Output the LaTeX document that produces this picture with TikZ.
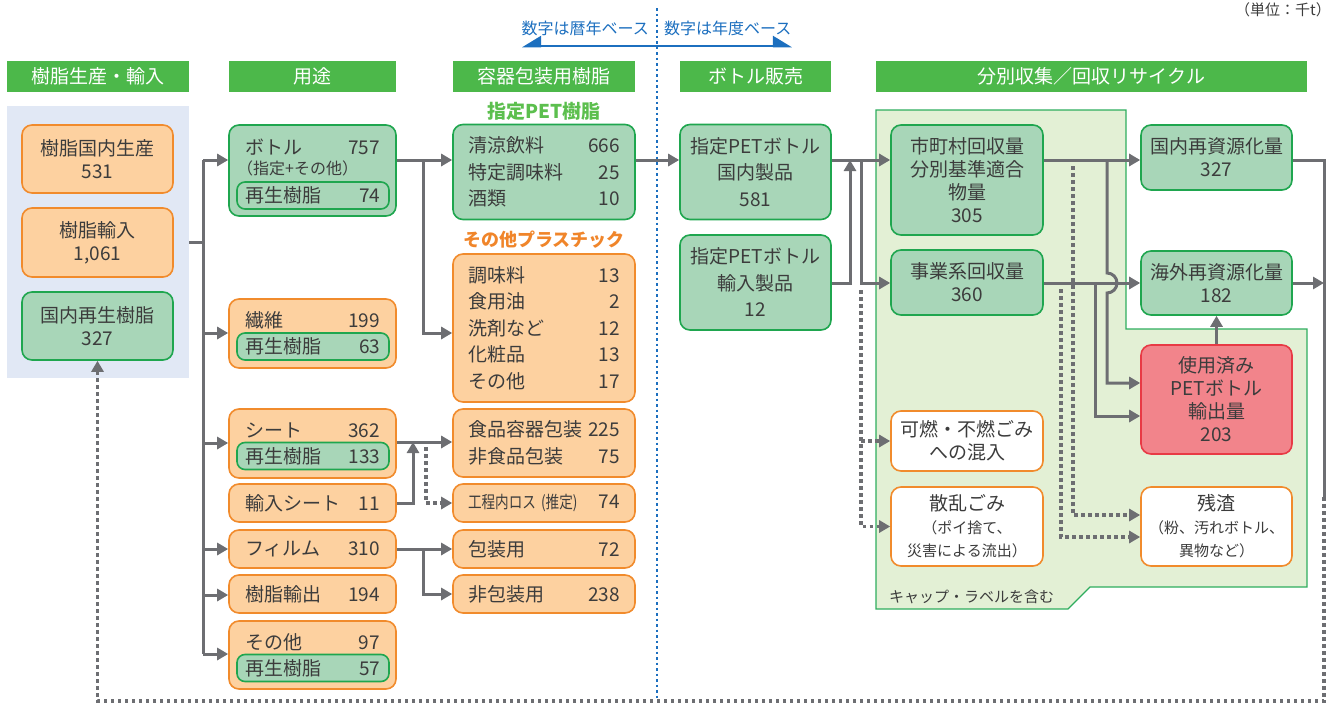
\documentclass[tikz,border=0pt]{standalone}
\usepackage{fontspec}
\usepackage{graphicx}
\setmainfont{Noto Sans CJK JP}
\usetikzlibrary{arrows.meta,positioning,calc}
\definecolor{hdrgreen}{HTML}{4CB84A}
\definecolor{boxgreen}{HTML}{1FA64F}
\definecolor{fillgreen}{HTML}{A8D6B8}
\definecolor{boxorange}{HTML}{F18B2C}
\definecolor{fillorange}{HTML}{FDD1A0}
\definecolor{boxred}{HTML}{E83A45}
\definecolor{fillred}{HTML}{F2848B}
\definecolor{panelblue}{HTML}{E1E8F5}
\definecolor{areabg}{HTML}{E3F0D5}
\definecolor{areagreen}{HTML}{2EAD5E}
\definecolor{flowgray}{HTML}{6D6E72}
\definecolor{basisblue}{HTML}{1C6FBF}
\definecolor{petgreen}{HTML}{5CBF4E}
\definecolor{othorange}{HTML}{F0852A}
\definecolor{ink}{HTML}{3C3C3C}
\newcommand\fsz[2]{\fontsize{#1}{#2}\selectfont}
\newcommand\gap{\hspace{0pt plus 1filll}}
\newcommand\subline[1]{{\fsz{15}{20}#1}}
\tikzset{
  hdr/.style={fill=hdrgreen, text=white, minimum height=31pt, inner sep=0pt, font=\fsz{19}{23}},
  greenbox/.style={draw=boxgreen, fill=fillgreen, line width=1.6pt, rounded corners=10pt,
    inner sep=0pt, align=center, text=ink, font=\fsz{19}{23}},
  orangebox/.style={greenbox, draw=boxorange, fill=fillorange},
  whitebox/.style={greenbox, draw=boxorange, fill=white},
  redbox/.style={greenbox, draw=boxred, fill=fillred},
  rowbox/.style={text width=135pt, align=left},
  tallrows/.style={text width=152pt, align=left, font=\fsz{19}{26.5}},
  subbox/.style={greenbox, rounded corners=8pt, minimum width=152pt, minimum height=27pt,
    text width=135pt, align=left},
  rowtxt/.style={text=ink, inner sep=0pt, text width=135pt, align=left, font=\fsz{19}{23}},
  note/.style={text=ink, inner sep=0pt, font=\fsz{15}{18}},
  grouplbl/.style={inner sep=0pt, font=\bfseries\fsz{19}{23}},
  flow/.style={-{Triangle[length=11pt,width=12pt]}, line width=3pt, draw=flowgray},
  link/.style={line width=3pt, draw=flowgray},
  dotflow/.style={flow, line width=3.5pt, dash pattern=on 3.5pt off 3.5pt},
  dotlink/.style={link, line width=3.5pt, dash pattern=on 3.5pt off 3.5pt},
  basisarr/.style={{Triangle[harpoon,swap,length=17pt,width=20pt]}-{Triangle[harpoon,length=17pt,width=20pt]},
    line width=2.5pt, draw=basisblue},
  divline/.style={draw=basisblue, line width=2.5pt, dash pattern=on 2.5pt off 3pt}
}
\begin{document}
\begin{tikzpicture}[x=1pt, y=-1pt]
  \useasboundingbox (0,0) rectangle (1335,704);
  % base year note and divider
  \node[note, font=\fsz{15}{18}, anchor=base east] (unit) at (1331,16) {（単位：千t）};
  \node[inner sep=0pt, text=basisblue, font=\fsz{16}{18}, anchor=east] (calyr) at (649,28) {数字は暦年ベース};
  \node[inner sep=0pt, text=basisblue, font=\fsz{16}{18}, anchor=west] (fisyr) at (664,28) {数字は年度ベース};
  \coordinate (basisl) at (522,46);
  \coordinate (basisr) at (792,46);
  \draw[basisarr] (basisl) -- (basisr);
  \coordinate (divtop) at (657,8);
  \coordinate (divbot) at (657,700);
  \draw[divline] (divtop) -- (divbot);
  % headers
  \node[hdr, minimum width=182pt] (hsrc) at (98,76.5) {樹脂生産・輸入};
  \node[hdr, minimum width=167pt] (huse) at (312.5,76.5) {用途};
  \node[hdr, minimum width=182pt] (hpack) at (544,76.5) {容器包装用樹脂};
  \node[hdr, minimum width=151pt] (hsale) at (755.5,76.5) {ボトル販売};
  \node[hdr, minimum width=431pt] (hcoll) at (1091.5,76.5) {分別収集／回収リサイクル};
  % backgrounds
  \node[fill=panelblue, minimum width=182pt, minimum height=272pt, inner sep=0pt] (srcpanel) at (98,242) {};
  \draw[draw=areagreen, fill=areabg, line width=1.2pt] (876,110) -- (1126,110) -- (1126,329)
    -- (1307,329) -- (1307,587) -- (1090,587) -- (1068,609) -- (876,609) -- cycle;
  \node[note, anchor=west] (capnote) at (889,597) {キャップ・ラベルを含む};
  % resin sources
  \node[orangebox, minimum width=151pt, minimum height=68pt] (dompro) at (97.5,159) {樹脂国内生産\\531};
  \node[orangebox, minimum width=151pt, minimum height=69pt] (resimp) at (97.5,242.5) {樹脂輸入\\1,061};
  \node[greenbox, minimum width=151pt, minimum height=68pt] (recres) at (97.5,326) {国内再生樹脂\\327};
  % uses
  \node[greenbox, minimum width=167pt, minimum height=91pt] (bottle) at (312.5,170.5) {};
  \node[rowtxt] (bottlet) at (312.5,147) {ボトル\gap 757};
  \node[note, font=\fsz{16}{18}, anchor=west] (bottles) at (237,168) {（指定+その他）};
  \node[subbox] (bottler) at (313,195.5) {再生樹脂\gap 74};
  \node[orangebox, minimum width=167pt, minimum height=69pt] (fiber) at (312.5,333.5) {};
  \node[rowtxt] (fibert) at (312.5,320) {繊維\gap 199};
  \node[subbox] (fiberr) at (313,346.5) {再生樹脂\gap 63};
  \node[orangebox, minimum width=167pt, minimum height=69pt] (sheet) at (312.5,443.5) {};
  \node[rowtxt] (sheett) at (312.5,430) {シート\gap 362};
  \node[subbox] (sheetr) at (313,456) {再生樹脂\gap 133};
  \node[orangebox, rowbox, minimum width=167pt, minimum height=38pt] (impsheet) at (312.5,503) {輸入シート\gap 11};
  \node[orangebox, rowbox, minimum width=167pt, minimum height=38pt] (film) at (312.5,549) {フィルム\gap 310};
  \node[orangebox, rowbox, minimum width=167pt, minimum height=38pt] (resexp) at (312.5,594) {樹脂輸出\gap 194};
  \node[orangebox, minimum width=167pt, minimum height=68pt] (other) at (312.5,655) {};
  \node[rowtxt] (othert) at (312.5,642) {その他\gap 97};
  \node[subbox] (otherr) at (313,668) {再生樹脂\gap 57};
  % packaging resin
  \node[grouplbl, text=petgreen] (petlbl) at (544,111) {指定PET樹脂};
  \node[greenbox, tallrows, minimum width=182pt, minimum height=95pt] (petres) at (544,172)
    {清涼飲料\gap 666\\特定調味料\gap 25\\酒類\gap 10};
  \node[grouplbl, text=othorange, font=\bfseries\fsz{18}{22}] (othlbl) at (544,240) {その他プラスチック};
  \node[orangebox, tallrows, minimum width=182pt, minimum height=148pt] (othpl) at (544,328)
    {調味料\gap 13\\食用油\gap 2\\洗剤など\gap 12\\化粧品\gap 13\\その他\gap 17};
  \node[orangebox, tallrows, minimum width=182pt, minimum height=68pt] (foodpk) at (544,443)
    {食品容器包装\gap 225\\非食品包装\gap 75};
  \node[orangebox, tallrows, minimum width=182pt, minimum height=38pt] (loss) at (544,503)
    {\scalebox{0.8}[1]{\fsz{17}{20}工程内ロス (推定)}\gap 74};
  \node[orangebox, tallrows, minimum width=182pt, minimum height=38pt] (wrap) at (544,549) {包装用\gap 72};
  \node[orangebox, tallrows, minimum width=182pt, minimum height=38pt] (nonwrap) at (544,594) {非包装用\gap 238};
  % bottle sales
  \node[greenbox, font=\fsz{19}{26.5}, minimum width=151pt, minimum height=95pt] (saledom) at (755.5,172)
    {指定PETボトル\\国内製品\\581};
  \node[greenbox, font=\fsz{19}{26.5}, minimum width=151pt, minimum height=95pt] (saleimp) at (755.5,282.5)
    {指定PETボトル\\輸入製品\\12};
  % collection
  \node[greenbox, minimum width=152pt, minimum height=110pt] (munic) at (967,180) {市町村回収量\\分別基準適合\\物量\\305};
  \node[greenbox, minimum width=152pt, minimum height=65pt] (biz) at (967,282.5) {事業系回収量\\360};
  \node[whitebox, minimum width=152pt, minimum height=60pt] (burn) at (967,441) {可燃・不燃ごみ\\への混入};
  \node[whitebox, minimum width=152pt, minimum height=79pt] (litter) at (967,526.5)
    {散乱ごみ\\\subline{（ポイ捨て、}\\\subline{災害による流出）}};
  % recycling
  \node[greenbox, minimum width=151pt, minimum height=65pt] (domrec) at (1216.5,157.5) {国内再資源化量\\327};
  \node[greenbox, minimum width=151pt, minimum height=64pt] (ovsrec) at (1216.5,283) {海外再資源化量\\182};
  \node[redbox, minimum width=151pt, minimum height=109pt] (export) at (1216.5,399.5) {使用済み\\PETボトル\\輸出量\\203};
  \node[whitebox, minimum width=151pt, minimum height=79pt] (residue) at (1216.5,526.5)
    {残渣\\\subline{（粉、汚れボトル、}\\\subline{異物など）}};
  % sources to uses
  \coordinate (tk1) at (203,160);
  \coordinate (tk2) at (203,333);
  \coordinate (tk3) at (203,443);
  \coordinate (tk4) at (203,549);
  \coordinate (tk5) at (203,595);
  \coordinate (tk6) at (203,654);
  \draw[link] (srcpanel.east) -- (srcpanel.east -| tk1);
  \draw[link] (tk1) -- (tk6);
  \foreach \k/\n in {tk1/bottle, tk2/fiber, tk3/sheet, tk4/film, tk5/resexp, tk6/other}
    \draw[flow] (\k) -- (\k -| \n.west);
  % uses to packaging
  \coordinate (pk1) at (423,160);
  \coordinate (pk2) at (423,333);
  \draw[flow] (bottle.east |- pk1) -- (pk1 -| petres.west);
  \draw[flow] (pk1) -- (pk2) -- (pk2 -| othpl.west);
  \coordinate (sh1) at (413,442);
  \coordinate (sh2) at (426,447);
  \draw[flow] (sheet.east |- sh1) -- (sh1 -| foodpk.west);
  \draw[flow] (impsheet.east) -- (impsheet.east -| sh1) -- (sh1);
  \draw[dotflow] (sh2) |- (loss.west);
  \coordinate (fl1) at (423,549);
  \draw[flow] (film) -- (wrap);
  \draw[flow] (fl1) |- (nonwrap.west);
  % packaging to sales
  \draw[flow] (petres.east |- pk1) -- (pk1 -| saledom.west);
  % sales to collection
  \coordinate (sl1) at (850,160);
  \coordinate (sl2) at (861,160);
  \coordinate (sl3) at (861,283);
  \coordinate (sl4) at (861,290);
  \draw[flow] (saledom.east |- sl1) -- (sl1 -| munic.west);
  \draw[flow] (saleimp.east |- sl3) -| (sl1);
  \draw[flow] (sl2) -- (sl3) -- (sl3 -| biz.west);
  \draw[dotflow] (sl4) |- (litter.west);
  \draw[dotflow] (sl4 |- burn.west) -- (burn.west);
  % collection to recycling
  \coordinate (cl1) at (1107,160);
  \coordinate (cl2) at (1107,383);
  \coordinate (cl3) at (1095,283);
  \coordinate (cl4) at (1095,416);
  \draw[flow] (munic.east |- cl1) -- (cl1 -| domrec.west);
  \draw[flow] (cl1) -- ++(0,113) arc[start angle=-90, end angle=90, radius=10] -- (cl2) -- (cl2 -| export.west);
  \draw[flow] (biz.east |- cl3) -- (cl3 -| ovsrec.west);
  \draw[flow] (cl3) -- (cl4) -- (cl4 -| export.west);
  \coordinate (cl5) at (1073,166);
  \coordinate (cl6) at (1073,515);
  \coordinate (cl7) at (1061,289);
  \coordinate (cl8) at (1061,537);
  \draw[dotflow] (cl5) -- (cl6) -- (cl6 -| residue.west);
  \draw[dotflow] (cl7) -- (cl8) -- (cl8 -| residue.west);
  \draw[flow] (export) -- (ovsrec);
  % return loop
  \coordinate (rt1) at (1324,160);
  \coordinate (rt2) at (1324,497);
  \coordinate (rt3) at (1324,701);
  \draw[link] (domrec.east |- rt1) -- (rt1) -- (rt2);
  \draw[flow] (ovsrec.east) -- (ovsrec.east -| rt1);
  \draw[dotflow] (rt2) -- (rt3) -| (recres.south);
\end{tikzpicture}
\end{document}
